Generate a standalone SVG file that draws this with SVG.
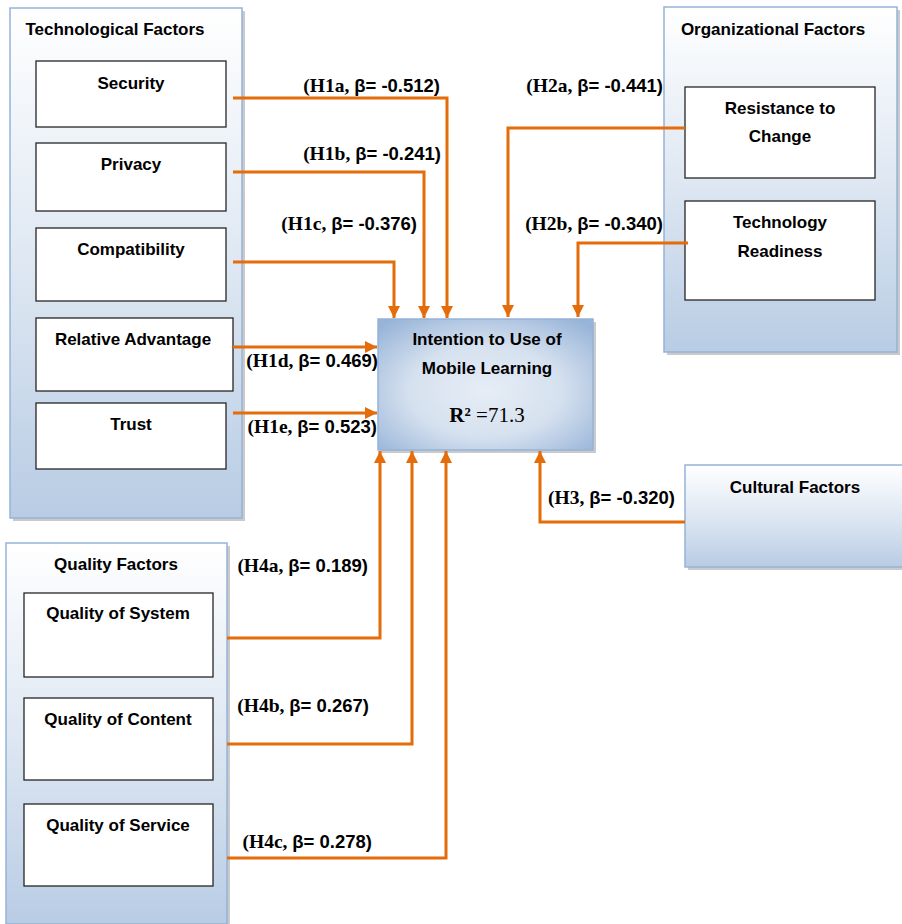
<svg xmlns="http://www.w3.org/2000/svg" width="902" height="924" viewBox="0 0 902 924">
<style>
.panel{stroke:#95b3d7;stroke-width:1.5;fill:url(#pg)}
.shadow{fill:#a6a6a6;opacity:0.6}
.box{fill:#fff;stroke:#262626;stroke-width:1.3}
.t{font-family:"Liberation Sans",Arial,sans-serif;font-weight:bold;font-size:17px;fill:#000;text-anchor:middle}
.lbl{font-weight:bold;fill:#000;text-anchor:end}
.sf{font-family:"Liberation Serif","Times New Roman",serif;font-size:19.5px}
.ss{font-family:"Liberation Sans",Arial,sans-serif;font-size:18.5px}
.c{fill:none;stroke:#e46c0a;stroke-width:3}
.ca{fill:none;stroke:#e46c0a;stroke-width:3;marker-end:url(#ah)}
</style>
<defs>
<linearGradient id="pg" x1="0" y1="0" x2="0" y2="1">
<stop offset="0" stop-color="#ffffff"/>
<stop offset="0.55" stop-color="#dbe5f1"/>
<stop offset="1" stop-color="#b8cce4"/>
</linearGradient>
<radialGradient id="cg" cx="0.5" cy="0.55" r="0.7">
<stop offset="0" stop-color="#e6edf6"/>
<stop offset="0.5" stop-color="#d6e1ef"/>
<stop offset="1" stop-color="#96b3d8"/>
</radialGradient>
<marker id="ah" markerWidth="14" markerHeight="14" refX="12" refY="7" orient="auto" markerUnits="userSpaceOnUse">
<path d="M0,1 L12,7 L0,13 z" fill="#e46c0a"/>
</marker>
</defs>

<g id="tech">
<rect class="shadow" x="13" y="11" width="232" height="510"/>
<rect class="panel" x="10" y="8" width="232" height="510"/>
<text class="t" x="115" y="35">Technological Factors</text>
<g id="security"><rect class="box" x="36" y="61" width="190" height="66"/><text class="t" x="131" y="89">Security</text></g>
<g id="privacy"><rect class="box" x="36" y="143" width="190" height="68"/><text class="t" x="131" y="170">Privacy</text></g>
<g id="compat"><rect class="box" x="36" y="228" width="190" height="73"/><text class="t" x="131" y="255">Compatibility</text></g>
<g id="reladv"><rect class="box" x="36" y="318" width="197" height="73"/><text class="t" x="133" y="345">Relative Advantage</text></g>
<g id="trust"><rect class="box" x="36" y="403" width="190" height="66"/><text class="t" x="131" y="430">Trust</text></g>
</g>

<g id="org">
<rect class="shadow" x="667" y="10" width="233" height="345"/>
<rect class="panel" x="664" y="7" width="233" height="345"/>
<text class="t" x="773" y="35">Organizational Factors</text>
<g id="resist"><rect class="box" x="685" y="87" width="190" height="91"/><text class="t" x="780" y="114">Resistance to</text><text class="t" x="780" y="142">Change</text></g>
<g id="ready"><rect class="box" x="685" y="201" width="190" height="99"/><text class="t" x="780" y="228">Technology</text><text class="t" x="780" y="257">Readiness</text></g>
</g>

<g id="cultural">
<rect class="shadow" x="688" y="468" width="216" height="102"/>
<rect class="panel" x="685" y="465" width="220" height="102"/>
<text class="t" x="795" y="493">Cultural Factors</text>
</g>

<g id="quality">
<rect class="shadow" x="9" y="546" width="221" height="381"/>
<rect class="panel" x="6" y="543" width="221" height="381"/>
<text class="t" x="116" y="570">Quality Factors</text>
<g id="qsys"><rect class="box" x="24" y="593" width="189" height="84"/><text class="t" x="118" y="619">Quality of System</text></g>
<g id="qcont"><rect class="box" x="24" y="698" width="189" height="82"/><text class="t" x="118" y="725">Quality of Content</text></g>
<g id="qserv"><rect class="box" x="24" y="804" width="189" height="82"/><text class="t" x="118" y="831">Quality of Service</text></g>
</g>

<g id="intention">
<rect class="shadow" x="381" y="322" width="215" height="131"/>
<rect x="378" y="319" width="215" height="131" fill="url(#cg)" stroke="#95b3d7" stroke-width="1.5"/>
<text class="t" x="487" y="345">Intention to Use of</text>
<text class="t" x="487" y="374">Mobile Learning</text>
<text x="487" y="422" text-anchor="middle" font-family="Liberation Serif,'Times New Roman',serif" font-size="21" fill="#000"><tspan font-weight="bold">R²</tspan> =71.3</text>
</g>

<g id="connectors">
<path class="ca" d="M233,98 H447 V318"/>
<path class="ca" d="M233,172 H424 V318"/>
<path class="ca" d="M233,262 H394 V318"/>
<path class="ca" d="M233,347 H377"/>
<path class="ca" d="M233,413 H377"/>
<path class="ca" d="M685,128 H508 V317"/>
<path class="ca" d="M688,243 H578 V317"/>
<path class="ca" d="M685,522 H540 V451"/>
<path class="ca" d="M227,638 H380 V451"/>
<path class="ca" d="M227,744 H412 V451"/>
<path class="ca" d="M227,858 H446 V451"/>
</g>

<g id="labels">
<text class="lbl" x="440" y="92"><tspan class="sf">(H1a, </tspan><tspan class="ss">β= -0.512)</tspan></text>
<text class="lbl" x="441" y="160"><tspan class="sf">(H1b, </tspan><tspan class="ss">β= -0.241)</tspan></text>
<text class="lbl" x="417" y="230"><tspan class="sf">(H1c, </tspan><tspan class="ss">β= -0.376)</tspan></text>
<text class="lbl" x="378" y="367"><tspan class="sf">(H1d, </tspan><tspan class="ss">β= 0.469)</tspan></text>
<text class="lbl" x="377" y="433"><tspan class="sf">(H1e, </tspan><tspan class="ss">β= 0.523)</tspan></text>
<text class="lbl" x="663" y="92"><tspan class="sf">(H2a, </tspan><tspan class="ss">β= -0.441)</tspan></text>
<text class="lbl" x="663" y="230"><tspan class="sf">(H2b, </tspan><tspan class="ss">β= -0.340)</tspan></text>
<text class="lbl" x="675" y="504"><tspan class="sf">(H3, </tspan><tspan class="ss">β= -0.320)</tspan></text>
<text class="lbl" x="368" y="572"><tspan class="sf">(H4a, </tspan><tspan class="ss">β= 0.189)</tspan></text>
<text class="lbl" x="369" y="712"><tspan class="sf">(H4b, </tspan><tspan class="ss">β= 0.267)</tspan></text>
<text class="lbl" x="372" y="848"><tspan class="sf">(H4c, </tspan><tspan class="ss">β= 0.278)</tspan></text>
</g>
</svg>
